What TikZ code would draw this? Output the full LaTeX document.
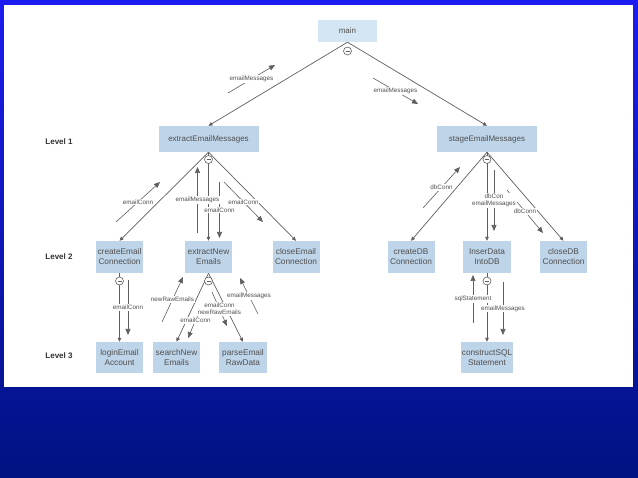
\documentclass[tikz,border=0pt]{standalone}
\usepackage{fontspec}
\setmainfont{Liberation Sans}
\usetikzlibrary{arrows.meta}
\definecolor{boxfill}{RGB}{190,212,232}
\definecolor{mainfill}{RGB}{212,230,244}
\definecolor{linec}{RGB}{95,95,95}
\definecolor{textc}{RGB}{80,80,80}
\definecolor{lvlc}{RGB}{50,50,50}
\definecolor{bgtop}{RGB}{28,28,240}
\definecolor{bgbot}{RGB}{0,18,128}
\begin{document}
\begin{tikzpicture}[x=1pt,y=-1pt,
  box/.style={draw=none, fill=boxfill, text=textc, font=\fontsize{8.3}{10}\selectfont, align=center, inner sep=0pt, minimum width=47pt, minimum height=32pt},
  wbox/.style={box, minimum width=100pt, minimum height=26pt, font=\fontsize{8}{10}\selectfont},
  lvl/.style={font=\fontsize{8}{10}\selectfont\bfseries, text=lvlc},
  tree/.style={draw=linec, line width=0.7pt, -{Triangle[length=4pt,width=3.6pt]}},
  flow/.style={draw=linec, line width=0.6pt, -{Triangle[length=6pt,width=5pt]}},
  lab/.style={fill=white, inner sep=0.8pt, text=textc, font=\fontsize{6.3}{7.2}\selectfont, align=center},
  knob/.style={circle, draw=linec, fill=white, minimum size=8pt, inner sep=0pt, line width=0.6pt,
    path picture={\draw[linec, line width=0.6pt] ([xshift=-2pt]path picture bounding box.center) -- ([xshift=2pt]path picture bounding box.center);}}
]
\useasboundingbox (0,0) rectangle (638,478);
\shade[top color=bgtop, bottom color=bgbot] (0,0) rectangle (638,478);
\fill[white] (4,5) rectangle (633,387);

% level labels
\node[lvl] (l1) at (59,142) {Level 1};
\node[lvl] (l2) at (59,257) {Level 2};
\node[lvl] (l3) at (59,356) {Level 3};

% nodes
\node[box, fill=mainfill, minimum width=59pt, minimum height=22pt, font=\fontsize{8}{10}\selectfont] (main) at (347.5,31) {main};
\node[wbox] (ext) at (208.5,139) {extractEmailMessages};
\node[wbox] (stage) at (487,139) {stageEmailMessages};
\node[box] (cec) at (119.5,257) {createEmail\\Connection};
\node[box] (exn) at (208.5,257) {extractNew\\Emails};
\node[box] (cle) at (296,257) {closeEmail\\Connection};
\node[box] (cdb) at (411,257) {createDB\\Connection};
\node[box, minimum width=48pt] (ins) at (487,257) {InserData\\IntoDB};
\node[box] (cldb) at (563.5,257) {closeDB\\Connection};
\node[box, minimum height=31pt] (login) at (119.5,357.5) {loginEmail\\Account};
\node[box, minimum height=31pt] (search) at (176.5,357.5) {searchNew\\Emails};
\node[box, minimum width=48pt, minimum height=31pt] (parse) at (243,357.5) {parseEmail\\RawData};
\node[box, minimum width=52pt, minimum height=31pt] (csql) at (487,357.5) {constructSQL\\Statement};

% tree edges
\draw[tree] (main.south) -- (ext.north);
\draw[tree] (main.south) -- (stage.north);
\draw[tree] (ext.south) -- (cec.north);
\draw[tree] (ext.south) -- (exn.north);
\draw[tree] (ext.south) -- (cle.north);
\draw[tree] (stage.south) -- (cdb.north);
\draw[tree] (stage.south) -- (ins.north);
\draw[tree] (stage.south) -- (cldb.north);
\draw[tree] (cec.south) -- (login.north);
\draw[tree] (exn.south) -- (search.north);
\draw[tree] (exn.south) -- (parse.north);
\draw[tree] (ins.south) -- (csql.north);

% knobs
\node[knob] (k0) at (347.5,51) {};
\node[knob] (k1) at (208.5,159.5) {};
\node[knob] (k2) at (487,159.5) {};
\node[knob] (k3) at (119.5,281) {};
\node[knob] (k4) at (208.5,281) {};
\node[knob] (k5) at (487,281) {};

% data-flow end points
\coordinate (f1a) at (228,93);   \coordinate (f1b) at (275,65);
\coordinate (f2a) at (373,78);   \coordinate (f2b) at (418,104);
\coordinate (f3a) at (116,222);  \coordinate (f3b) at (160,182);
\coordinate (f4a) at (197.5,233); \coordinate (f4b) at (197.5,167);
\coordinate (f5a) at (219.5,182); \coordinate (f5b) at (219.5,238);
\coordinate (f6a) at (224,182);  \coordinate (f6b) at (263,222);
\coordinate (f7a) at (423,208);  \coordinate (f7b) at (460,167);
\coordinate (f8a) at (494,170);  \coordinate (f8b) at (494,231);
\coordinate (f9a) at (507,190);  \coordinate (f9b) at (543,233);
\coordinate (f10a) at (128,280); \coordinate (f10b) at (128,335);
\coordinate (f11a) at (162,322); \coordinate (f11b) at (183,277);
\coordinate (f12a) at (203,303); \coordinate (f12b) at (188,338);
\coordinate (f13a) at (212,292); \coordinate (f13b) at (227,326);
\coordinate (f14a) at (258,314); \coordinate (f14b) at (240,278);
\coordinate (f15a) at (473,323); \coordinate (f15b) at (473,275);
\coordinate (f16a) at (503,282); \coordinate (f16b) at (503,335);

% data-flow arrows
\foreach \i in {1,...,16} {\draw[flow] (f\i a) -- (f\i b);}

% data-flow labels (drawn last so they mask the lines)
\path (f1a) -- (f1b) node[lab, midway] (t1) {emailMessages};
\path (f2a) -- (f2b) node[lab, midway] (t2) {emailMessages};
\path (f3a) -- (f3b) node[lab, midway] (t3) {emailConn};
\path (f4a) -- (f4b) node[lab, midway] (t4) {emailMessages};
\path (f5a) -- (f5b) node[lab, midway] (t5) {emailConn};
\path (f6a) -- (f6b) node[lab, midway] (t6) {emailConn};
\path (f7a) -- (f7b) node[lab, midway] (t7) {dbConn};
\path (f8a) -- (f8b) node[lab, midway] (t8) {dbCon\\emailMessages};
\path (f9a) -- (f9b) node[lab, midway] (t9) {dbConn};
\path (f10a) -- (f10b) node[lab, midway] (t10) {emailConn};
\path (f11a) -- (f11b) node[lab, midway] (t11) {newRawEmails};
\path (f12a) -- (f12b) node[lab, midway] (t12) {emailConn};
\path (f13a) -- (f13b) node[lab, midway] (t13) {emailConn\\newRawEmails};
\path (f14a) -- (f14b) node[lab, midway] (t14) {emailMessages};
\path (f15a) -- (f15b) node[lab, midway] (t15) {sqlStatement};
\path (f16a) -- (f16b) node[lab, midway] (t16) {emailMessages};
\end{tikzpicture}
\end{document}
